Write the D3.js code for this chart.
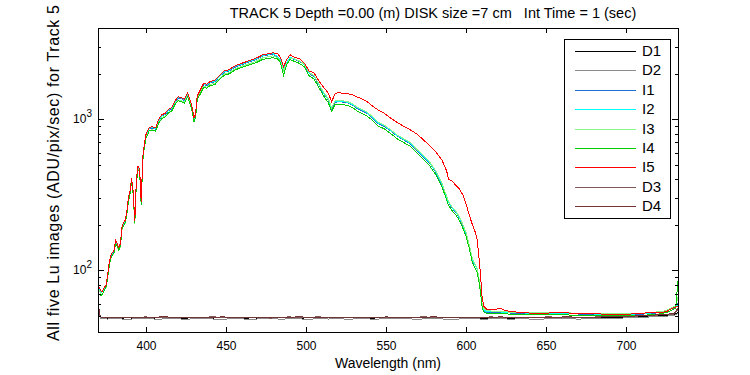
<!DOCTYPE html>
<html>
<head>
<meta charset="utf-8">
<script src="https://cdn.jsdelivr.net/npm/d3@7"></script>
<style>
body { margin: 0; background: #fff; }
text { font-family: Arial, "Liberation Sans", Helvetica, sans-serif; fill: #000; }
.trace { fill: none; stroke-width: 1; shape-rendering: crispEdges; }
.tick line { stroke: #000; shape-rendering: crispEdges; }
</style>
</head>
<body>
<div id="chart"></div>
<script>
// wavelengths (nm) of the five Lu image traces
var wl = [370,371,372,373,374,375,376,377,378,379,380,381,382,383,384,385,386,387,388,389,390,391,392,393,394,395,396,397,398,399,400,
  402,404,406,408,410,412,414,416,418,420,422,424,426,428,
  429,430,431,432,
  434,436,438,440,
  443,446,449,452,455,458,461,464,467,470,473,476,479,
  482,484,486,488,490,
  493,496,499,502,505,508,511,514,
  516,518,520,
  523,526,529,532,535,538,541,
  545,549,553,557,561,565,569,573,577,581,585,
  588,589,591,594,596,598,600,602,604,606,607,608,609,610,611,613,
  617,621,625,630,
  640,650,660,670,680,690,700,710,720,
  725,729,731,733];

var I1 = [78,74,71,72,75,78,90,110,123,128,132,154,147,138,147,190,202,210,239,294,328,397,323,208,392,475,461,276,549,676,774,
  862,872,858,980,1049,1068,1137,1166,1284,1372,1362,1323,1460,1264,
  1156,990,1058,1392,
  1529,1686,1666,1735,
  1764,1911,2038,2078,2185,2254,2313,2372,2430,2509,2607,2646,2685,
  2580,2430,2110,2350,2530,
  2470,2400,2280,2000,1910,1685,1475,1330,
  1170,1290,1300,
  1295,1280,1238,1175,1134,1092,1030,
  936,894,832,770,728,688,624,567,515,447,369,
  302,281,260,238,220,198,175,146,116,106,101,88,74,59,54,52.5,
  52.5,52.4,52.2,52,
  51.8,51.6,51.5,51.3,51,50.8,50.8,51.2,52.2,
  53.3,55.8,57,62];

var I2 = [79,75,71,72,76,79,91,111,125,130,134,155,149,140,149,192,204,212,242,297,332,401,327,210,396,480,465,279,554,683,782,
  871,881,866,990,1059,1079,1148,1178,1297,1386,1376,1337,1475,1277,
  1168,1000,1069,1406,
  1544,1703,1683,1752,
  1782,1931,2059,2099,2208,2277,2336,2396,2455,2534,2633,2673,2713,
  2610,2460,2140,2370,2560,
  2480,2420,2290,2020,1930,1700,1490,1345,
  1180,1300,1312,
  1307,1292,1250,1187,1145,1103,1040,
  945,903,840,777,735,695,630,572,520,452,373,
  305,284,263,240,223,200,176,147,118,107,102,89,75,60,55,53,
  53,53,52.6,52.3,
  52,52,51.8,51.6,51.3,51,51,51.5,52.5,
  53.5,56,57,60];

var I3 = [76,73,69,70,74,76,88,107,120,125,129,150,143,135,143,185,197,204,233,287,320,387,315,202,382,463,449,269,535,659,754,
  840,850,836,955,1022,1041,1108,1136,1251,1337,1327,1289,1423,1232,
  1127,965,1031,1356,
  1490,1643,1624,1690,
  1719,1862,1986,2025,2130,2197,2254,2311,2368,2445,2540,2579,2617,
  2557,2406,2096,2322,2500,
  2500,2420,2300,2030,1940,1710,1505,1357,
  1192,1314,1325,
  1320,1304,1261,1198,1155,1113,1049,
  954,912,848,784,742,702,636,578,525,456,376,
  307,286,265,243,225,201,178,148,119,108,103,90,76,61,56,54,
  53.5,53.4,53,52.6,
  52.4,52.4,52.2,52,51.6,51.4,51.4,51.8,53,
  54,57,58,70];

var I4 = [70,69,68,70,74,77,88,106,120,126,130,150,144,135,144,186,198,205,232,285,318,385,315,205,380,460,450,272,530,650,745,
  835,845,830,945,1010,1030,1095,1125,1240,1320,1310,1270,1400,1215,
  1110,950,1020,1340,
  1470,1620,1600,1660,
  1690,1830,1950,1990,2090,2160,2210,2270,2320,2390,2480,2510,2540,
  2520,2370,1950,2300,2480,
  2400,2330,2210,1930,1840,1620,1420,1280,
  1125,1240,1250,
  1245,1230,1190,1130,1090,1050,990,
  900,860,800,740,700,662,600,545,495,430,355,
  290,270,250,229,212,190,168,140,112,102,97,85,72,58,53,51.6,
  51.6,51.5,51.4,51,
  50.8,50.8,50.6,50.4,50,49.8,49.8,50.2,51.2,
  52.3,54.6,56,97];

var I5 = [80,76,72,73,77,80,92,112,126,131,135,157,150,141,150,194,206,214,244,300,335,405,330,212,400,485,470,282,560,690,790,
  880,890,875,1000,1070,1090,1160,1190,1310,1400,1390,1350,1490,1290,
  1180,1010,1080,1420,
  1560,1720,1700,1770,
  1800,1950,2080,2120,2230,2300,2360,2420,2480,2560,2660,2700,2740,
  2720,2560,2230,2470,2660,
  2560,2500,2340,2080,2020,1790,1620,1480,
  1300,1460,1500,
  1480,1470,1450,1400,1360,1310,1230,
  1150,1090,1010,950,895,850,800,735,670,610,535,
  450,400,390,362,344,315,275,232,200,176,160,125,95,68,58,55,
  54.5,56,54,53,
  52,52,52.5,51.5,51.5,51,51,52,52.5,
  53,56,57,58];

// wavelengths (nm) of the dark traces
var wlDark = [370,371,372,376,382,388,394,400,406,412,418,424,430,436,442,448,454,460,466,472,478,484,490,496,502,508,514,520,526,532,538,544,
  550,556,562,568,574,580,586,592,598,604,610,616,622,628,634,640,646,652,658,664,670,676,682,688,694,700,706,712,718,724,730,733];

var D1 = [58,50,48.5,
  48.2,47.8,48.5,48.0,47.6,48.3,48.8,47.9,48.1,48.6,
  47.7,48.2,48.9,48.0,47.8,48.4,48.1,47.6,48.5,48.2,
  47.9,48.7,48.0,48.3,47.8,48.6,48.1,47.7,48.4,48.8,
  48.0,47.9,48.5,48.2,47.6,48.3,48.7,48.0,48.1,47.8,
  48.6,48.4,48.0,47.7,48.5,48.9,48.1,48.3,47.9,48.6,
  48.2,48.8,48.4,49.0,48.7,49.2,49.5,49.8,50.2,50.6,
  53];

var D2 = [60,49.5,47.8,
  47.5,47.9,47.2,47.8,48.1,47.4,47.6,48.0,47.3,47.7,
  48.1,47.5,47.3,47.9,47.6,47.2,47.8,48.0,47.4,47.7,
  47.6,47.3,47.9,47.5,48.1,47.2,47.8,47.6,47.4,47.9,
  47.7,48.0,47.3,47.6,47.9,47.5,47.2,47.8,48.0,47.4,
  47.6,47.9,47.3,47.8,47.5,47.2,47.9,47.7,48.1,47.4,
  47.8,48.0,48.2,47.9,48.4,48.6,48.9,49.2,49.6,50.0,
  52];

var D3 = [62,50.5,48.8,
  48.5,48.9,48.3,48.7,49.1,48.4,48.6,49.0,48.8,48.3,
  48.7,49.2,48.5,48.4,48.9,49.0,48.6,48.2,48.8,49.1,
  48.4,48.7,49.2,48.5,48.3,48.9,48.6,49.0,48.7,48.4,
  48.9,48.5,48.8,49.2,48.4,48.6,49.0,48.7,48.3,48.8,
  49.1,48.5,48.7,48.9,48.4,48.8,49.2,48.6,48.9,49.0,
  48.7,49.1,49.3,49.0,49.4,49.7,50.0,50.4,50.8,51.3,
  55];

var D4 = [64,51,49,
  48.8,48.4,49.0,48.6,48.3,48.9,49.2,48.5,48.7,49.0,
  48.4,48.8,49.1,48.6,48.9,48.3,48.7,49.0,48.5,48.8,
  49.2,48.6,48.4,48.9,48.7,48.3,49.0,48.8,48.5,49.1,
  48.6,48.9,48.4,48.7,49.2,48.5,48.8,48.4,49.0,48.6,
  48.8,49.1,48.5,48.7,49.0,48.6,48.4,48.9,49.2,48.7,
  49.0,48.8,49.3,49.5,49.2,49.8,50.1,50.5,51.0,51.6,
  57];

var seriesNames = ['D1','D2','I1','I2','I3','I4','I5','D3','D4'];
var seriesColors = ['#000000','#8c8c8c','#1f6fd6','#00ffff','#88f888','#00cc00','#ff0000','#805858','#743434'];
var xTicks = [400,450,500,550,600,650,700];
var yMajor = [100,1000];
var yMinor = [50,60,70,80,90,200,300,400,500,600,700,800,900,2000,3000,4000];

var titleText = 'TRACK 5 Depth =0.00 (m) DISK size =7 cm   Int Time = 1 (sec)';
var xLabel = 'Wavelength (nm)';
var yLabel = 'All five Lu images (ADU/pix/sec) for Track 5';

var width = 750, height = 375;
var margin = {left: 98, top: 28};
var plotW = 580, plotH = 304;

var seriesWl = [wlDark, wlDark, wl, wl, wl, wl, wl, wlDark, wlDark];
var seriesVals = [D1, D2, I1, I2, I3, I4, I5, D3, D4];
var series = seriesNames.map(function (n, i) {
  return {name: n, wl: seriesWl[i], v: seriesVals[i], color: seriesColors[i]};
});
series.forEach(function (s) {
  if (s.wl.length != s.v.length) throw new Error(s.name + ' length ' + s.v.length + ' vs ' + s.wl.length);
});

var svg = d3.select('#chart')
    .append('svg')
    .attr('width', width)
    .attr('height', height);

svg.append('defs').append('clipPath').attr('id', 'clip')
    .append('rect').attr('width', plotW).attr('height', plotH);

var g = svg.append('g')
    .attr('transform', 'translate(' + margin.left + ',' + margin.top + ')');

var x = d3.scaleLinear().domain([370, 732.5]).range([0, plotW]);
var y = d3.scaleLog().domain([39, 4000]).range([plotH, 0]);

// traces, in plotting order
var line = d3.line()
    .x(function (d) { return x(d[0]); })
    .y(function (d) { return y(d[1]); });

g.append('g').attr('clip-path', 'url(#clip)')
  .selectAll('path')
  .data(series)
  .enter()
  .append('path')
    .attr('class', 'trace')
    .attr('stroke', function (d) { return d.color; })
    .attr('d', function (d) { return line(d3.zip(d.wl, d.v)); });

// axes, ticks pointing inwards on all four sides
var noLabel = function () { return ''; };

var xb = g.append('g')
    .attr('transform', 'translate(0,' + plotH + ')')
    .call(d3.axisBottom(x).tickValues(xTicks).tickSize(-5).tickSizeOuter(0).tickPadding(9));
xb.selectAll('text').style('font-size', '12px');

g.append('g')
    .call(d3.axisTop(x).tickValues(xTicks).tickSize(-5).tickSizeOuter(0).tickFormat(noLabel));

g.append('g').call(d3.axisLeft(y).tickValues(yMajor).tickSize(-6).tickSizeOuter(0).tickFormat(noLabel));
g.append('g').call(d3.axisLeft(y).tickValues(yMinor).tickSize(-3).tickSizeOuter(0).tickFormat(noLabel));
g.append('g').attr('transform', 'translate(' + plotW + ',0)')
    .call(d3.axisRight(y).tickValues(yMajor).tickSize(-6).tickSizeOuter(0).tickFormat(noLabel));
g.append('g').attr('transform', 'translate(' + plotW + ',0)')
    .call(d3.axisRight(y).tickValues(yMinor).tickSize(-3).tickSizeOuter(0).tickFormat(noLabel));
g.selectAll('.domain').remove();

// 10^n labels
var yl = g.selectAll('.ylab')
    .data(yMajor)
    .enter()
    .append('text')
    .attr('class', 'ylab')
    .attr('x', -6)
    .attr('y', function (d) { return y(d); })
    .attr('dy', '0.35em')
    .attr('text-anchor', 'end')
    .style('font-size', '12px');
yl.append('tspan').text('10');
yl.append('tspan')
    .attr('dy', '-0.6em')
    .style('font-size', '10px')
    .text(function (d) { return Math.round(Math.log10(d)); });

g.append('rect')
    .attr('x', 0.5).attr('y', 0.5)
    .attr('width', plotW).attr('height', plotH)
    .attr('fill', 'none')
    .attr('stroke', '#000')
    .style('shape-rendering', 'crispEdges');

// titles
svg.append('text')
    .attr('x', 433)
    .attr('y', 18)
    .attr('text-anchor', 'middle')
    .style('font-size', '14.5px')
    .style('white-space', 'pre')
    .text(titleText);

svg.append('text')
    .attr('x', margin.left + plotW / 2)
    .attr('y', 368)
    .attr('text-anchor', 'middle')
    .style('font-size', '14px')
    .text(xLabel);

svg.append('text')
    .attr('transform', 'translate(59,341) rotate(-90)')
    .attr('text-anchor', 'start')
    .attr('textLength', 336)
    .attr('lengthAdjust', 'spacing')
    .style('font-size', '16px')
    .text(yLabel);

// legend
var legX = 564, legY = 39, legW = 106, legH = 179, rowH = 19.4;
var leg = svg.append('g').attr('transform', 'translate(' + legX + ',' + legY + ')');
leg.append('rect')
    .attr('x', 0.5).attr('y', 0.5)
    .attr('width', legW).attr('height', legH)
    .attr('fill', '#fff')
    .attr('stroke', '#000')
    .style('shape-rendering', 'crispEdges');
var item = leg.selectAll('.item')
    .data(series)
    .enter()
    .append('g')
    .attr('class', 'item')
    .attr('transform', function (d, i) { return 'translate(0,' + Math.round(12 + i * rowH) + ')'; });
item.append('line')
    .attr('x1', 11).attr('x2', 72)
    .attr('y1', 0.5).attr('y2', 0.5)
    .attr('stroke', function (d) { return d.color; })
    .style('shape-rendering', 'crispEdges');
item.append('text')
    .attr('x', 78)
    .attr('y', 0)
    .attr('dy', '0.36em')
    .style('font-size', '15px')
    .text(function (d) { return d.name; });
</script>
</body>
</html>
